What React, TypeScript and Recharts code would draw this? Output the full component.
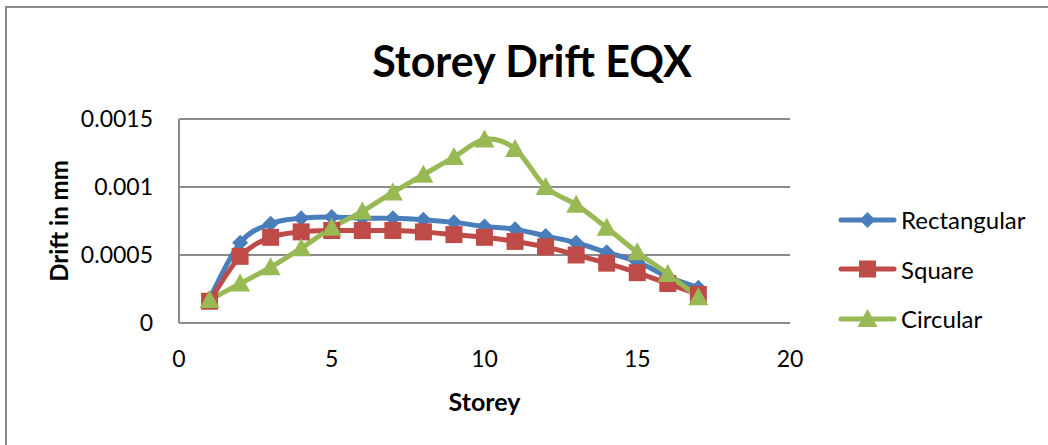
import React from 'react';
import {
  LineChart, Line, XAxis, YAxis, CartesianGrid, Legend, Label,
} from 'recharts';

// Storey number (x) and drift values per shape
const storeys = [1, 2, 3, 4, 5, 6, 7, 8, 9, 10, 11, 12, 13, 14, 15, 16, 17];
const rectangular = [0.00018, 0.00059, 0.00073, 0.00077, 0.00078, 0.00077, 0.00077, 0.00076, 0.00074, 0.00071, 0.00069, 0.00064, 0.00059, 0.00052, 0.00045, 0.00034, 0.00026];
const square = [0.00016, 0.00049, 0.00063, 0.00067, 0.00068, 0.00068, 0.00068, 0.00067, 0.00065, 0.00063, 0.0006, 0.00056, 0.0005, 0.00044, 0.00037, 0.00029, 0.00021];
const circular = [0.00017, 0.00029, 0.00041, 0.00055, 0.0007, 0.00082, 0.00096, 0.00109, 0.00122, 0.00135, 0.00128, 0.001, 0.00087, 0.0007, 0.00052, 0.00036, 0.00019];

const seriesOrder = ['Rectangular', 'Square', 'Circular'];
const xTicks = [0, 5, 10, 15, 20];
const yTicks = [0, 0.0005, 0.001, 0.0015];

const FONT = 'Lato, "Open Sans", sans-serif';
const BLUE = '#4A7EBB';
const RED = '#BE4B48';
const GREEN = '#98B954';

const data = storeys.map((s, i) => ({
  storey: s,
  Rectangular: rectangular[i],
  Square: square[i],
  Circular: circular[i],
}));

// Excel-style smoothing (Catmull-Rom through every point)
function excelCurve(context: any) {
  let pts: number[][] = [];
  return {
    areaStart() {},
    areaEnd() {},
    lineStart() { pts = []; },
    point(x: number, y: number) { pts.push([x, y]); },
    lineEnd() {
      if (!pts.length) return;
      context.moveTo(pts[0][0], pts[0][1]);
      for (let i = 0; i < pts.length - 1; i++) {
        const p0 = pts[i - 1] || pts[i];
        const p1 = pts[i];
        const p2 = pts[i + 1];
        const p3 = pts[i + 2] || p2;
        context.bezierCurveTo(
          p1[0] + (p2[0] - p0[0]) / 6, p1[1] + (p2[1] - p0[1]) / 6,
          p2[0] - (p3[0] - p1[0]) / 6, p2[1] - (p3[1] - p1[1]) / 6,
          p2[0], p2[1],
        );
      }
    },
  };
}

function marker(shape: string, cx: number, cy: number, color: string, key?: any) {
  if (shape === 'diamond') {
    const r = 8;
    return <polygon key={key} points={`${cx},${cy - r} ${cx + r},${cy} ${cx},${cy + r} ${cx - r},${cy}`} fill={color} />;
  }
  if (shape === 'square') {
    const h = 8.5;
    return <rect key={key} x={cx - h} y={cy - h} width={h * 2} height={h * 2} fill={color} />;
  }
  const w = 10;
  return <polygon key={key} points={`${cx},${cy - 10} ${cx + w},${cy + 8} ${cx - w},${cy + 8}`} fill={color} />;
}

const SHAPES: Record<string, string> = {
  Rectangular: 'diamond',
  Square: 'square',
  Circular: 'triangle',
};

const makeDot = (shape: string, color: string) => (props: any) => {
  const { cx, cy, index } = props;
  if (cx == null || cy == null) return <g key={index} />;
  return marker(shape, cx, cy, color, index);
};

const renderLegend = (props: any) => {
  const payload = [...props.payload].sort(
    (a: any, b: any) => seriesOrder.indexOf(a.value) - seriesOrder.indexOf(b.value),
  );
  return (
    <div style={{ width: 210, fontFamily: FONT, fontSize: 24, color: '#000' }}>
      {payload.map((entry: any) => (
        <div key={entry.value} style={{ display: 'flex', alignItems: 'center', height: 49.5 }}>
          <svg width={60} height={24} style={{ display: 'block' }}>
            <line x1={3} y1={12} x2={56} y2={12} stroke={entry.color} strokeWidth={5} strokeLinecap="round" />
            {marker(SHAPES[entry.value], 29.5, 12, entry.color)}
          </svg>
          <span style={{ marginLeft: 3 }}>{entry.value}</span>
        </div>
      ))}
    </div>
  );
};

export default function App() {
  return (
    <div style={{ position: 'fixed', left: 0, top: 0, width: 1048, height: 445, background: '#fff', overflow: 'hidden' }}>
      <div style={{
        position: 'absolute', left: 5, top: 6, width: 1100, height: 500,
        border: '2px solid #8a8a8a', boxSizing: 'border-box',
      }} />
      <div style={{
        position: 'absolute', left: 0, top: 33, width: 1064, textAlign: 'center',
        fontFamily: FONT, fontWeight: 'bold', fontSize: 43, color: '#000', lineHeight: '56px',
      }}>
        Storey Drift EQX
      </div>
      <div style={{ position: 'absolute', left: 0, top: 0 }}>
        <LineChart
          width={1048}
          height={445}
          data={data}
          margin={{ top: 119, right: 48, bottom: 27, left: 20 }}
        >
          <CartesianGrid vertical={false} stroke="#8a8a8a" strokeWidth={2} />
          <XAxis
            dataKey="storey"
            type="number"
            domain={[0, 20]}
            ticks={xTicks}
            height={95}
            axisLine={{ stroke: '#8a8a8a', strokeWidth: 2 }}
            tickLine={false}
            tickSize={6}
            tickMargin={22}
            tick={{ fill: '#000', fontSize: 23, fontFamily: FONT }}
          >
            <Label
              value="Storey"
              position="insideBottom"
              offset={7}
              style={{ fill: '#000', fontSize: 25, fontWeight: 'bold', fontFamily: FONT }}
            />
          </XAxis>
          <YAxis
            type="number"
            domain={[0, 0.0015]}
            ticks={yTicks}
            width={159}
            axisLine={{ stroke: '#8a8a8a', strokeWidth: 2 }}
            tickLine={false}
            tickSize={6}
            tickMargin={20}
            tick={{ fill: '#000', fontSize: 23, fontFamily: FONT }}
          >
            <Label
              content={(p: any) => {
                const vb = p.viewBox;
                const x = vb.x + 38;
                const y = vb.y + vb.height / 2;
                return (
                  <text
                    x={x}
                    y={y}
                    transform={`rotate(-90, ${x}, ${y})`}
                    textAnchor="middle"
                    dominantBaseline="central"
                    style={{ fill: '#000', fontSize: 24, fontWeight: 'bold', fontFamily: FONT }}
                  >
                    Drift in mm
                  </text>
                );
              }}
            />
          </YAxis>
          <Legend
            layout="vertical"
            align="right"
            verticalAlign="middle"
            content={renderLegend}
            wrapperStyle={{ left: 838, top: 195, right: 'auto' }}
          />
          <Line
            dataKey="Rectangular"
            type={excelCurve as any}
            stroke={BLUE}
            strokeWidth={5}
            dot={makeDot('diamond', BLUE)}
            activeDot={false}
            isAnimationActive={false}
          />
          <Line
            dataKey="Square"
            type={excelCurve as any}
            stroke={RED}
            strokeWidth={5}
            dot={makeDot('square', RED)}
            activeDot={false}
            isAnimationActive={false}
          />
          <Line
            dataKey="Circular"
            type={excelCurve as any}
            stroke={GREEN}
            strokeWidth={5}
            dot={makeDot('triangle', GREEN)}
            activeDot={false}
            isAnimationActive={false}
          />
        </LineChart>
      </div>
    </div>
  );
}
